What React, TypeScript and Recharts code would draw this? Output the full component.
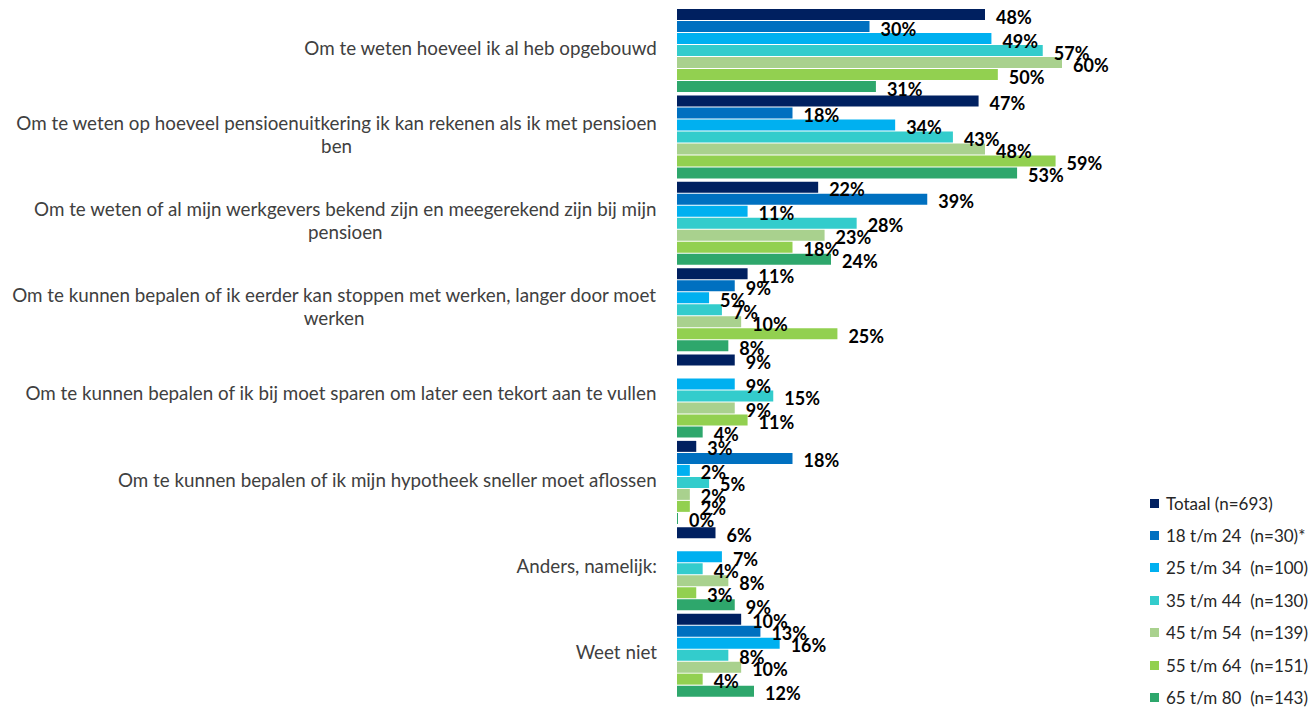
import React from "react";
import { BarChart, Bar, XAxis, YAxis, LabelList } from "recharts";

// Redenen om pensioenoverzicht te raadplegen, per leeftijdsgroep (%)
const categories = [
    "Om te weten hoeveel ik al heb opgebouwd",
    "Om te weten op hoeveel pensioenuitkering ik kan rekenen als ik met pensioen ben",
    "Om te weten of al mijn werkgevers bekend zijn en meegerekend zijn bij mijn pensioen",
    "Om te kunnen bepalen of ik eerder kan stoppen met werken, langer door moet werken",
    "Om te kunnen bepalen of ik bij moet sparen om later een tekort aan te vullen",
    "Om te kunnen bepalen of ik mijn hypotheek sneller moet aflossen",
    "Anders, namelijk:",
    "Weet niet",
];

const totaal = [48, 47, 22, 11, 9, 3, 6, 10];
const age18to24 = [30, 18, 39, 9, null, 18, null, 13];
const age25to34 = [49, 34, 11, 5, 9, 2, 7, 16];
const age35to44 = [57, 43, 28, 7, 15, 5, 4, 8];
const age45to54 = [60, 48, 23, 10, 9, 2, 8, 10];
const age55to64 = [50, 59, 18, 25, 11, 2, 3, 4];
const age65to80 = [31, 53, 24, 8, 4, 0, 9, 12];

const seriesNames = [
    "Totaal (n=693)",
    "18 t/m 24  (n=30)*",
    "25 t/m 34  (n=100)",
    "35 t/m 44  (n=130)",
    "45 t/m 54  (n=139)",
    "55 t/m 64  (n=151)",
    "65 t/m 80  (n=143)",
];

const COLORS = ["#002060", "#0070C0", "#00B0F0", "#33CCCC", "#A9D18E", "#92D050", "#2EA76C"];
const KEYS = ["s0", "s1", "s2", "s3", "s4", "s5", "s6"];
const allSeries = [totaal, age18to24, age25to34, age35to44, age45to54, age55to64, age65to80];

const data = categories.map((name, i) => {
    const row: any = { name };
    allSeries.forEach((s, k) => (row[KEYS[k]] = s[i]));
    return row;
});

const TICK_FONT = "18.8px Lato";
let ctx: CanvasRenderingContext2D | null = null;
const textWidth = (t: string) => {
    if (!ctx) ctx = document.createElement("canvas").getContext("2d");
    ctx!.font = TICK_FONT;
    return ctx!.measureText(t).width;
};

// greedy wrap, lines centered on each other, block right-aligned
const wrapText = (text: string, maxW: number) => {
    const words = text.split(" ");
    const lines: string[] = [];
    let cur = "";
    words.forEach((w) => {
        const test = cur ? cur + " " + w : w;
        if (textWidth(test) > maxW && cur) {
            lines.push(cur);
            cur = w;
        } else cur = test;
    });
    if (cur) lines.push(cur);
    return lines;
};

const CategoryTick = (props: any) => {
    const { x, y, payload } = props;
    const lines = wrapText(payload.value, 660);
    const blockW = Math.max(...lines.map(textWidth));
    const cx = x - blockW / 2;
    const lh = 23;
    const startY = y - ((lines.length - 1) * lh) / 2 - 2;
    return (
        <g>
            {lines.map((l, i) => (
                <text
                    key={i}
                    x={cx}
                    y={startY + i * lh}
                    textAnchor="middle"
                    dominantBaseline="central"
                    fill="#404040"
                    style={{ font: TICK_FONT }}
                >
                    {l}
                </text>
            ))}
        </g>
    );
};

const ValueLabel = (props: any) => {
    const { x, y, width, height, value } = props;
    if (value === null || value === undefined) return null;
    return (
        <text
            x={x + width + 11}
            y={y + height / 2 + 2}
            dominantBaseline="central"
            fill="#000"
            style={{ fontFamily: "Lato", fontWeight: 700, fontSize: 18 }}
        >
            {value}%
        </text>
    );
};

const LegendBox = () => (
    <div
        style={{
            position: "absolute",
            left: 1150,
            top: 487,
            fontFamily: "Lato",
            fontSize: 17,
            color: "#262626",
        }}
    >
        {seriesNames.map((n, i) => (
            <div key={n} style={{ height: 32.4, display: "flex", alignItems: "center", whiteSpace: "pre" }}>
                <span style={{ width: 9, height: 9, background: COLORS[i], marginRight: 7, display: "inline-block" }} />
                {n}
            </div>
        ))}
    </div>
);

export default function App() {
    return (
        <div style={{ position: "absolute", left: 0, top: 0, width: 1309, height: 708, background: "#fff" }}>
            <BarChart
                width={1309}
                height={708}
                data={data}
                layout="vertical"
                margin={{ top: 6, right: 247, bottom: 11, left: 0 }}
                barCategoryGap={3}
                barGap={1}
            >
                <XAxis type="number" domain={[0, 60]} hide />
                <YAxis
                    type="category"
                    dataKey="name"
                    width={677}
                    axisLine={false}
                    tickLine={false}
                    tickSize={0}
                    tickMargin={20}
                    interval={0}
                    tick={<CategoryTick />}
                />
                {KEYS.map((k, i) => (
                    <Bar
                        key={k}
                        dataKey={k}
                        name={seriesNames[i]}
                        fill={COLORS[i]}
                        isAnimationActive={false}
                        minPointSize={i === 6 ? 1 : 0}
                    >
                        <LabelList dataKey={k} content={<ValueLabel />} />
                    </Bar>
                ))}
            </BarChart>
            <LegendBox />
        </div>
    );
}
